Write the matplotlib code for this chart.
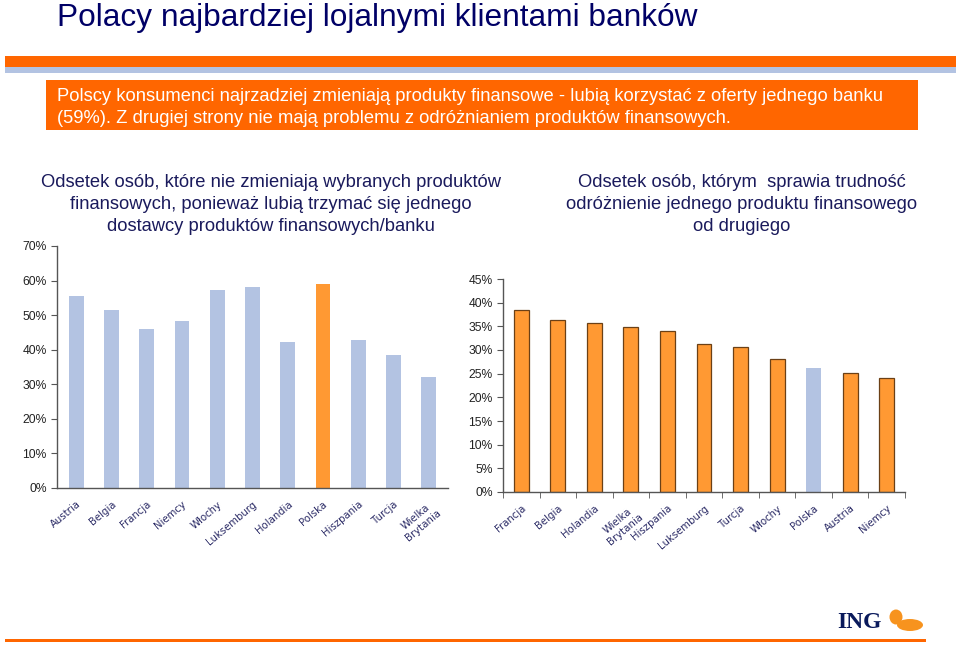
import numpy as np
import matplotlib
matplotlib.use('Agg')
import matplotlib.pyplot as plt
from matplotlib.patches import Rectangle, Ellipse

# chart data
loyal_countries = ['Austria', 'Belgia', 'Francja', 'Niemcy', 'Włochy', 'Luksemburg',
                   'Holandia', 'Polska', 'Hiszpania', 'Turcja', 'Wielka\nBrytania']
loyal_values = [55.4, 51.4, 45.9, 48.4, 57.4, 58.0, 42.1, 59.1, 42.7, 38.4, 32.0]

diff_countries = ['Francja', 'Belgia', 'Holandia', 'Wielka\nBrytania', 'Hiszpania', 'Luksemburg',
                  'Turcja', 'Włochy', 'Polska', 'Austria', 'Niemcy']
diff_values = [38.4, 36.4, 35.6, 34.9, 34.1, 31.3, 30.7, 28.2, 26.2, 25.2, 24.0]

title = 'Polacy najbardziej lojalnymi klientami banków'
subtitle = ('Polscy konsumenci najrzadziej zmieniają produkty finansowe - lubią korzystać z oferty jednego banku\n'
            '(59%). Z drugiej strony nie mają problemu z odróżnianiem produktów finansowych.')
left_title = ('Odsetek osób, które nie zmieniają wybranych produktów\n'
              'finansowych, ponieważ lubią trzymać się jednego\n'
              'dostawcy produktów finansowych/banku')
right_title = ('Odsetek osób, którym  sprawia trudność\n'
               'odróżnienie jednego produktu finansowego\n'
               'od drugiego')

BLUE = '#b3c3e2'
ORANGE = '#ff9933'
BAND = '#ff6600'
NAVY = '#1a1a5c'
LABEL = '#2b2b66'

plt.rcParams['font.family'] = ['Liberation Sans', 'DejaVu Sans']

W, H = 960, 645
fig = plt.figure(figsize=(9.6, 6.45), dpi=100)

def px(x0, y0, x1, y1):
    # pixel box (top-left origin) -> figure fraction rect
    return [x0 / W, 1 - y1 / H, (x1 - x0) / W, (y1 - y0) / H]

# header
fig.text(57 / W, 1 - 18 / H, title, fontsize=22.8, color='#000066', va='center', ha='left')
fig.patches.append(Rectangle((5 / W, 1 - 67 / H), 951 / W, 11 / H, transform=fig.transFigure,
                             color=BAND, lw=0))
fig.patches.append(Rectangle((5 / W, 1 - 73 / H), 951 / W, 6 / H, transform=fig.transFigure,
                             color='#b3c3e2', lw=0))
fig.patches.append(Rectangle((46 / W, 1 - 130 / H), 872 / W, 50 / H, transform=fig.transFigure,
                             color=BAND, lw=0))
fig.text(57 / W, 1 - 107.5 / H, subtitle, fontsize=13.2, color='white', va='center', ha='left',
         linespacing=1.4)

fig.text(271 / W, 1 - 204.5 / H, left_title, fontsize=13.2, color=NAVY, ha='center', va='center',
         linespacing=1.42)
fig.text(742 / W, 1 - 204.5 / H, right_title, fontsize=13.2, color=NAVY, ha='center', va='center',
         linespacing=1.42)


def style_axes(ax):
    for s in ['top', 'right']:
        ax.spines[s].set_visible(False)
    for s in ['left', 'bottom']:
        ax.spines[s].set_color('#555555')
        ax.spines[s].set_linewidth(1.0)
    ax.tick_params(axis='y', direction='out', length=4, color='#555555', labelsize=8.7,
                   labelcolor='#222222')
    ax.yaxis.set_major_formatter(matplotlib.ticker.FuncFormatter(lambda v, p: '%d%%' % round(v)))


# left chart
ax1 = fig.add_axes(px(57, 246, 448, 488))
x1 = np.arange(len(loyal_countries))
cols1 = [ORANGE if c == 'Polska' else BLUE for c in loyal_countries]
ax1.bar(x1, loyal_values, width=0.42, color=cols1, lw=0)
ax1.set_xlim(-0.55, len(x1) - 0.45)
ax1.set_ylim(0, 70)
ax1.set_yticks(np.arange(0, 71, 10))
style_axes(ax1)
ax1.set_xticks(x1)
ax1.set_xticklabels(loyal_countries, rotation=40, ha='right', rotation_mode='anchor',
                    family='DejaVu Sans', fontsize=7.3, color=LABEL, multialignment='center')
ax1.tick_params(axis='x', length=0, pad=8)

# right chart
ax2 = fig.add_axes(px(503, 279, 905, 492))
x2 = np.arange(len(diff_countries))
for i, (c, v) in enumerate(zip(diff_countries, diff_values)):
    if c == 'Polska':
        ax2.bar(i, v, width=0.41, color=BLUE, lw=0)
    else:
        ax2.bar(i, v, width=0.41, color=ORANGE, edgecolor='#6b4016', lw=0.9)
ax2.set_xlim(-0.5, len(x2) - 0.5)
ax2.set_ylim(0, 45)
ax2.set_yticks(np.arange(0, 46, 5))
style_axes(ax2)
ax2.set_xticks(x2)
ax2.set_xticklabels(diff_countries, rotation=40, ha='right', rotation_mode='anchor',
                    family='DejaVu Sans', fontsize=7.3, color=LABEL, multialignment='center')
ax2.set_xticks(np.arange(-0.5, len(x2)), minor=True)
ax2.tick_params(axis='x', which='major', length=0, pad=8)
ax2.tick_params(axis='x', which='minor', length=4, color='#555555', direction='out')

# footer: ING logo and orange line
fig.patches.append(Rectangle((5 / W, 1 - 642 / H), 921 / W, 3 / H, transform=fig.transFigure,
                             color=BAND, lw=0))
fig.text(859 / W, 1 - 622 / H, 'ING', fontsize=17, fontweight='bold', family='Liberation Serif',
         color='#0a1a5c', ha='center', va='center')
fig.patches.append(Ellipse((896 / W, 1 - 617 / H), 13 / W, 15 / H, transform=fig.transFigure,
                           color='#f7931e', lw=0))
fig.patches.append(Ellipse((910 / W, 1 - 625 / H), 26 / W, 12 / H, transform=fig.transFigure,
                           color='#f7931e', lw=0))

fig.savefig('out.png', dpi=100)
